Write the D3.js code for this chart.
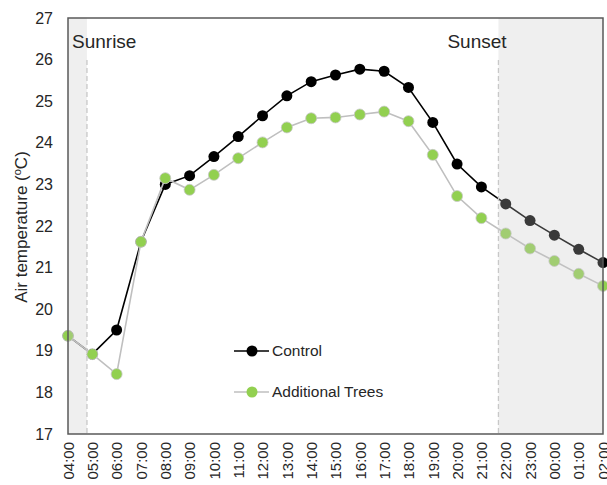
<!DOCTYPE html>
<meta charset="utf-8">
<script src="https://d3js.org/d3.v7.min.js"></script>
<style>
  body { margin: 0; background: #fff; }
  text { font-family: "Liberation Sans", Arial, sans-serif; fill: #262626; }
</style>
<body>
<div id="chart"></div>
<script>
// hours along the x axis
var hours = ["04:00","05:00","06:00","07:00","08:00","09:00","10:00","11:00","12:00",
  "13:00","14:00","15:00","16:00","17:00","18:00","19:00","20:00","21:00","22:00",
  "23:00","00:00","01:00","02:00"];

// air temperature, degC
var control = [19.36, 18.92, 19.5, 21.62, 23.0, 23.21, 23.67, 24.15, 24.65, 25.13, 25.47,
  25.63, 25.77, 25.72, 25.33, 24.49, 23.49, 22.94, 22.53, 22.13, 21.78, 21.44, 21.12];
var trees = [19.36, 18.92, 18.44, 21.62, 23.15, 22.87, 23.23, 23.63, 24.01, 24.37, 24.59,
  24.61, 24.68, 24.75, 24.52, 23.71, 22.72, 22.19, 21.82, 21.46, 21.16, 20.85, 20.56];

var yTicks = [17, 18, 19, 20, 21, 22, 23, 24, 25, 26, 27];

// sunrise / sunset as position in hours from 04:00
var sunrise = 0.78, sunset = 17.7;

var W = 607, H = 485;
var margin = {top: 18, right: 4, bottom: 51, left: 68};
var width = W - margin.left - margin.right,
    height = H - margin.top - margin.bottom;

var svg = d3.select("#chart").append("svg")
  .attr("width", W).attr("height", H)
  .append("g")
  .attr("transform", "translate(" + margin.left + "," + margin.top + ")");

var x = d3.scaleLinear().domain([0, hours.length - 1]).range([0, width]);
var y = d3.scaleLinear().domain([17, 27]).range([height, 0]);

// y axis
svg.append("g")
  .call(d3.axisLeft(y).tickValues(yTicks).tickSize(0).tickPadding(15))
  .call(function(g) { g.select(".domain").remove(); })
  .selectAll("text").style("font-size", "16px").attr("fill", "#262626");

// x axis, rotated labels
svg.append("g")
  .attr("transform", "translate(0," + height + ")")
  .call(d3.axisBottom(x).tickValues(d3.range(hours.length))
    .tickFormat(function(i) { return hours[i]; }).tickSize(0))
  .call(function(g) { g.select(".domain").remove(); })
  .selectAll("text")
  .style("font-size", "15px").attr("fill", "#262626")
  .attr("text-anchor", "end")
  .attr("dy", "0.35em")
  .attr("transform", "translate(0,8) rotate(-90)")
  .attr("x", 0).attr("y", 0);

// lines + points
var line = d3.line().x(function(d, i) { return x(i); }).y(function(d) { return y(d); });

svg.append("path").datum(control)
  .attr("fill", "none").attr("stroke", "#000").attr("stroke-width", 1.6).attr("d", line);
svg.selectAll(".cdot").data(control).enter().append("circle")
  .attr("cx", function(d, i) { return x(i); }).attr("cy", function(d) { return y(d); })
  .attr("r", 5.5).attr("fill", "#000");

svg.append("path").datum(trees)
  .attr("fill", "none").attr("stroke", "#bfbfbf").attr("stroke-width", 1.6).attr("d", line);
svg.selectAll(".tdot").data(trees).enter().append("circle")
  .attr("cx", function(d, i) { return x(i); }).attr("cy", function(d) { return y(d); })
  .attr("r", 5.5).attr("fill", "#92d050").attr("stroke", "#c8c8c8").attr("stroke-width", 0.8);

// night shading drawn over the data
svg.append("rect").attr("x", x(0)).attr("y", 0)
  .attr("width", x(sunrise) - x(0)).attr("height", height)
  .attr("fill", "#c8c8c8").attr("opacity", 0.29);
svg.append("rect").attr("x", x(sunset)).attr("y", 0)
  .attr("width", x(hours.length - 1) - x(sunset)).attr("height", height)
  .attr("fill", "#c8c8c8").attr("opacity", 0.29);

[sunrise, sunset].forEach(function(t) {
  svg.append("line").attr("x1", x(t)).attr("x2", x(t))
    .attr("y1", 42).attr("y2", height)
    .attr("stroke", "#c8c8c8").attr("stroke-width", 1.3).attr("stroke-dasharray", "5,3");
});

svg.append("text").attr("x", 4).attr("y", 30).style("font-size", "19px").text("Sunrise");
svg.append("text").attr("x", x(sunset) - 51).attr("y", 30).style("font-size", "19px").text("Sunset");

// frame
svg.append("rect").attr("width", width).attr("height", height)
  .attr("fill", "none").attr("stroke", "#595959").attr("stroke-width", 1.5);

// y label
var yl = svg.append("text")
  .attr("transform", "translate(-41," + (height / 2 + 1) + ") rotate(-90)")
  .attr("text-anchor", "middle").style("font-size", "17px");
yl.append("tspan").text("Air temperature (");
yl.append("tspan").attr("baseline-shift", "super").style("font-size", "11px").text("o");
yl.append("tspan").text("C)");

// legend
var legend = [
  {name: "Control", stroke: "#000", fill: "#000", ly: 333},
  {name: "Additional Trees", stroke: "#bfbfbf", fill: "#92d050", ly: 374}
];
legend.forEach(function(l) {
  var g = svg.append("g").attr("transform", "translate(166," + l.ly + ")");
  g.append("line").attr("x1", 0).attr("x2", 35).attr("stroke", l.stroke).attr("stroke-width", 1.6);
  g.append("circle").attr("cx", 18).attr("r", 5.5).attr("fill", l.fill);
  g.append("text").attr("x", 38).attr("dy", "0.35em").style("font-size", "15.5px").text(l.name);
});
</script>
</body>
